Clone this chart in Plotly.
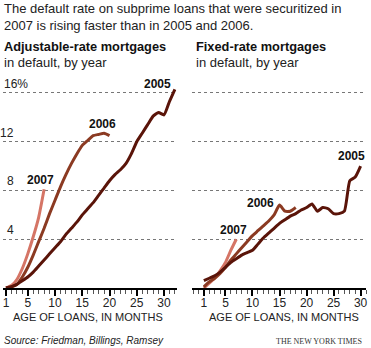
import plotly.graph_objects as go

# ---- data ----
months_arm_2005 = list(range(1, 33))
arm_2005 = [0, 0.1, 0.3, 0.6, 0.9, 1.3, 1.8, 2.3, 2.8, 3.3, 3.8, 4.4, 4.9, 5.4, 6.0, 6.5,
            7.0, 7.6, 8.2, 8.8, 9.3, 9.7, 10.2, 11.0, 12.0, 12.7, 13.4, 14.1, 14.4, 14.2, 15.3, 16.3]
months_arm_2006 = list(range(1, 21))
arm_2006 = [0, 0.1, 0.3, 0.9, 1.7, 2.7, 3.8, 4.9, 6.1, 7.2, 8.3, 9.3, 10.2, 11.0, 11.7, 12.1,
            12.5, 12.6, 12.7, 12.5]
months_arm_2007 = list(range(1, 9))
arm_2007 = [0, 0.2, 0.7, 1.6, 2.8, 4.2, 5.8, 8.1]

months_frm_2005 = list(range(1, 31))
frm_2005 = [0.6, 0.8, 1.0, 1.3, 1.7, 2.1, 2.4, 2.7, 2.9, 3.1, 3.6, 4.1, 4.5, 4.9, 5.3, 5.6,
            5.9, 6.1, 6.4, 6.6, 6.9, 6.3, 6.6, 6.5, 6.1, 6.1, 6.3, 8.8, 9.1, 10.0]
months_frm_2006 = list(range(1, 19))
frm_2006 = [0.1, 0.5, 0.8, 1.2, 1.7, 2.3, 2.8, 3.3, 3.8, 4.3, 4.7, 5.1, 5.5, 6.0, 6.8, 6.3, 6.3, 6.6]
months_frm_2007 = list(range(1, 8))
frm_2007 = [0, 0.4, 0.8, 1.4, 2.1, 3.1, 4.0]

years = ["2005", "2006", "2007"]
colors = {"2005": "#5a1409", "2006": "#8b3a22", "2007": "#d57566"}
x_ticks = [1, 5, 10, 15, 20, 25, 30]
y_grid = [4, 8, 12, 16]
y_tick_text = ["4", "8", "12", "16%"]

W, H = 371, 348
def px(x):
    return x / W
def py(y):
    return 1 - y / H

fig = go.Figure()

left = [(months_arm_2005, arm_2005, "2005"), (months_arm_2006, arm_2006, "2006"), (months_arm_2007, arm_2007, "2007")]
right = [(months_frm_2005, frm_2005, "2005"), (months_frm_2006, frm_2006, "2006"), (months_frm_2007, frm_2007, "2007")]

for xs, ys, yr in reversed(left):
    fig.add_trace(go.Scatter(x=xs, y=ys, mode="lines", xaxis="x", yaxis="y",
                             line=dict(color=colors[yr], width=3, shape="spline", smoothing=0.5),
                             showlegend=False, hoverinfo="skip"))
for xs, ys, yr in reversed(right):
    fig.add_trace(go.Scatter(x=xs, y=ys, mode="lines", xaxis="x2", yaxis="y2",
                             line=dict(color=colors[yr], width=3, shape="spline", smoothing=0.5),
                             showlegend=False, hoverinfo="skip"))

ydom = [py(288), py(288 - 17 * 12.19)]
common_x = dict(
    tickmode="array", tickvals=x_ticks, ticks="outside", ticklen=6, tickwidth=1.5, tickcolor="#000",
    showline=True, linecolor="#000", linewidth=1.5, showgrid=False, zeroline=False,
    tickfont=dict(family="Liberation Sans, Arial", size=12, color="#222"),
    ticklabelstandoff=-3,
    minor=dict(ticks="outside", ticklen=4, tickwidth=1, tickcolor="#555", tick0=1, dtick=1, showgrid=False),
    fixedrange=True,
)
common_y = dict(
    range=[0, 17], tickmode="array", tickvals=y_grid, showticklabels=False, showgrid=True,
    gridcolor="#777", griddash="dot", gridwidth=1, zeroline=False, showline=False, fixedrange=True,
)

fig.update_layout(
    width=W, height=H, margin=dict(l=0, r=0, t=0, b=0),
    paper_bgcolor="white", plot_bgcolor="white",
    xaxis=dict(domain=[px(3), px(177.5)], range=[0.45, 32.3], anchor="y", **common_x),
    yaxis=dict(domain=ydom, anchor="x", **common_y),
    xaxis2=dict(domain=[px(193), px(368)], range=[-1.2, 31.0], anchor="y2", **common_x),
    yaxis2=dict(domain=ydom, anchor="x2", **common_y),
)

F = "Liberation Sans, Arial, sans-serif"
ann = []
def T(x, y, text, size=12, bold=False, xanchor="left", yanchor="middle", color="#111", family=F, italic=False):
    t = f"<b>{text}</b>" if bold else text
    if italic:
        t = f"<i>{t}</i>"
    ann.append(dict(x=px(x), y=py(y), xref="paper", yref="paper", text=t, showarrow=False,
                    xanchor=xanchor, yanchor=yanchor, font=dict(size=size, color=color, family=family)))

T(2, 9, "The default rate on subprime loans that were securitized in", size=13, color="#222")
T(2, 25, "2007 is rising faster than in 2005 and 2006.", size=13, color="#222")
T(2, 46, "Adjustable-rate mortgages", size=12.8, bold=True)
T(2, 63, "in default, by year", size=13, color="#222")
T(195, 46, "Fixed-rate mortgages", size=12.8, bold=True)
T(195, 63, "in default, by year", size=13, color="#222")

# y tick labels (left panel)
for v, lab in zip(y_grid, y_tick_text):
    if lab.endswith("%"):
        ann.append(dict(x=px(2), y=v, xref="paper", yref="y", text=lab, showarrow=False,
                        xanchor="left", yanchor="bottom", yshift=0,
                        font=dict(size=12, color="#222", family=F)))
    else:
        ann.append(dict(x=px(16), y=v, xref="paper", yref="y", text=lab, showarrow=False,
                        xanchor="right", yanchor="bottom", yshift=0,
                        font=dict(size=12, color="#222", family=F)))

# series labels
T(158, 84, "2005", bold=True, xanchor="center")
T(103, 124, "2006", bold=True, xanchor="center")
T(41, 180, "2007", bold=True, xanchor="center")
T(353, 156, "2005", bold=True, xanchor="center")
T(262, 203, "2006", bold=True, xanchor="center")
T(235, 230, "2007", bold=True, xanchor="center")

T(88, 317, "AGE OF LOANS, IN MONTHS", size=11, xanchor="center", color="#222")
T(286, 317, "AGE OF LOANS, IN MONTHS", size=11, xanchor="center", color="#222")
T(2, 340, "Source: Friedman, Billings, Ramsey", size=10, italic=True, color="#222")
T(366, 341, "THE NEW YORK TIMES", size=8, xanchor="right", color="#333", family="Liberation Serif, Times New Roman, serif")

fig.update_layout(annotations=ann)
fig.write_html("out.html")
